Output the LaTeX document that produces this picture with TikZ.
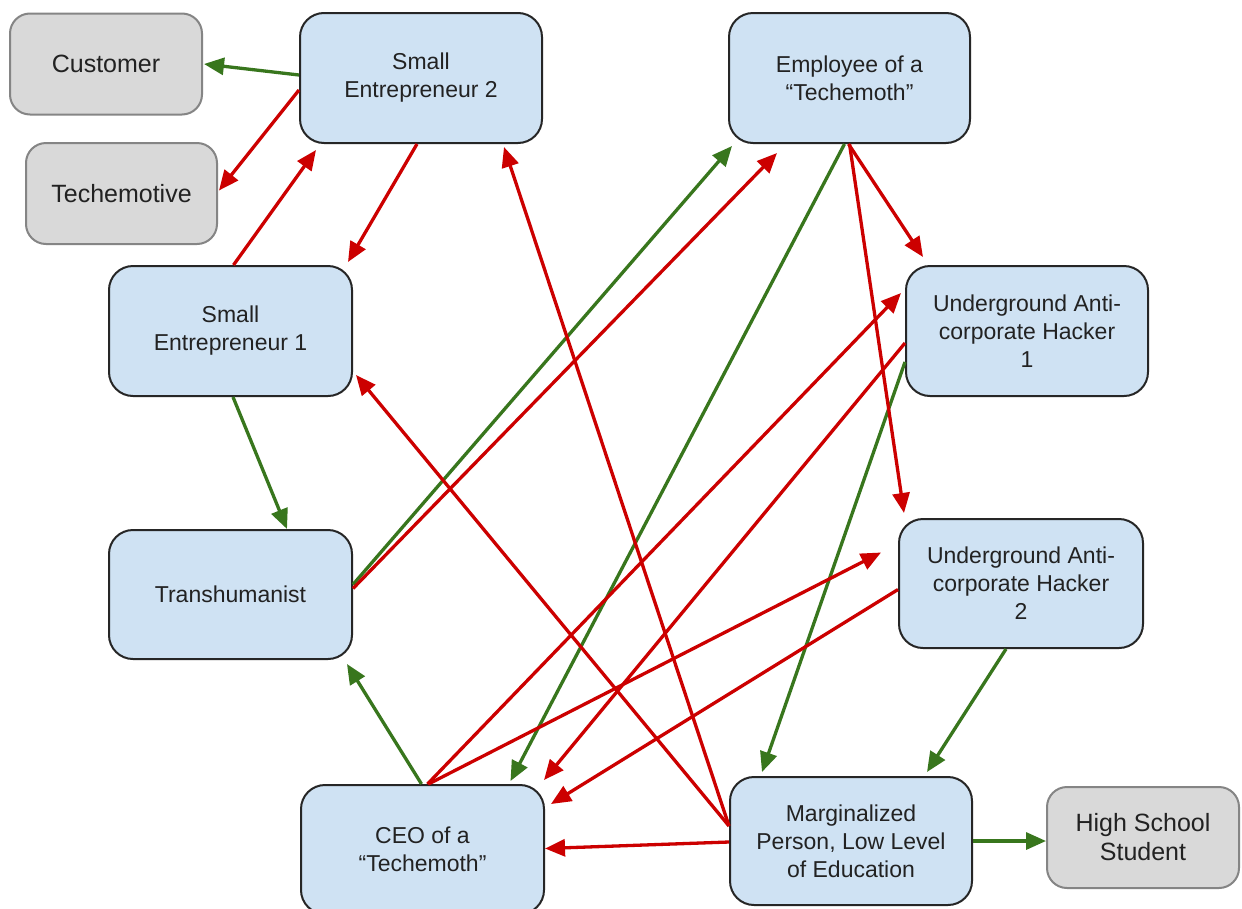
\documentclass[tikz,border=0pt]{standalone}
\usepackage{fontspec}
\setmainfont{Liberation Sans}
\usetikzlibrary{arrows.meta,calc}
\definecolor{boxblue}{HTML}{CFE2F3}
\definecolor{boxgrey}{HTML}{D9D9D9}
\definecolor{edgegrey}{HTML}{858585}
\definecolor{linkgreen}{HTML}{38761D}
\definecolor{linkred}{HTML}{CC0000}
\definecolor{inkdark}{HTML}{222222}

\begin{document}
\begin{tikzpicture}[x=1pt,y=-1pt,
  rolebox/.style={draw=black!85, line width=2pt, fill=boxblue, rounded corners=24pt,
    minimum width=242pt, minimum height=130pt, inner sep=0pt, align=center,
    text=inkdark, font=\fontsize{23}{28}\selectfont},
  outbox/.style={draw=edgegrey, line width=2pt, fill=boxgrey, rounded corners=20pt,
    minimum width=192pt, minimum height=101pt, inner sep=0pt, align=center,
    text=inkdark, font=\fontsize{25}{29}\selectfont},
  relink/.style={line width=3.3pt, -{Triangle[length=20pt,width=17pt]}},
  goodlink/.style={relink, color=linkgreen},
  badlink/.style={relink, color=linkred}]

% page frame
\useasboundingbox (0,0) rectangle (1242,908);
\clip (0,0) rectangle (1242,908);
\fill[white] (0,0) rectangle (1242,908);

% outside actors
\node[outbox] (cust) at (106,64) {Customer};
\node[outbox, minimum width=191pt] (tech) at (121.5,193.5) {Techemotive};
\node[outbox, minimum height=101pt] (hs) at (1143,837.5) {High School\\Student};

% main roles
\node[rolebox] (se2) at (421,78) {Small\\Entrepreneur 2};
\node[rolebox, minimum width=241pt] (emp) at (849.5,78) {Employee of a\\“Techemoth”};
\node[rolebox, minimum width=243pt] (se1) at (230.5,331) {Small\\Entrepreneur 1};
\node[rolebox] (h1) at (1027,331) {Underground Anti-\\corporate Hacker\\1};
\node[rolebox, minimum width=243pt, minimum height=129pt] (trans) at (230.5,594.5) {Transhumanist};
\node[rolebox, minimum width=244pt, minimum height=129pt] (h2) at (1021,583.5) {Underground Anti-\\corporate Hacker\\2};
\node[rolebox, minimum width=243pt, minimum height=129pt] (ceo) at (422.5,849.5) {CEO of a\\“Techemoth”};
\node[rolebox, minimum height=128pt] (marg) at (851,841) {Marginalized\\Person, Low Level\\of Education};

% positive relations
\draw[goodlink] ($(se2.west)+(0,-3)$) -- ($(cust.east)+(1,0)$);
\draw[goodlink] ($(se1.south)+(2.5,0)$) -- ($(trans.north)+(56.5,0)$);
\draw[goodlink] ($(ceo.north)+(-1,0)$) -- ($(trans.south east)+(-6,4)$);
\draw[goodlink] ($(trans.east)+(0,-10)$) -- ($(emp.south west)+(4,2)$);
\draw[goodlink] ($(emp.south)+(-5,0)$) -- ($(ceo.north)+(88,-3)$);
\draw[goodlink] ($(h1.west)+(0,31)$) -- ($(marg.north west)+(33,-4)$);
\draw[goodlink] ($(h2.south)+(-15,0)$) -- ($(marg.north east)+(-46,-4)$);
\draw[goodlink] (marg.east) -- (hs.west |- marg.east);

% negative relations
\draw[badlink] ($(se2.west)+(0,12)$) -- ($(tech.east)+(1,-3)$);
\draw[badlink] ($(se1.north)+(3,0)$) -- ($(se2.south west)+(17,6)$);
\draw[badlink] ($(se2.south)+(-4,0)$) -- ($(se1.north east)+(-5,-3)$);
\draw[badlink] ($(marg.west)+(0,-15)$) -- ($(se2.south)+(83,3)$);
\draw[badlink] ($(marg.west)+(0,-15)$) -- ($(se1.east)+(3,44)$);
\draw[badlink] ($(trans.east)+(0,-6)$) -- ($(emp.south west)+(49,9)$);
\draw[badlink] ($(emp.south)+(-1,0)$) -- ($(h1.north west)+(18,-8)$);
\draw[badlink] ($(emp.south)+(0,0)$) -- ($(h2.north west)+(6,-5)$);
\draw[badlink] ($(ceo.north)+(5,0)$) -- ($(h1.west)+(-4,-38)$);
\draw[badlink] ($(ceo.north)+(6,0)$) -- ($(h2.west)+(-17,-31)$);
\draw[badlink] ($(h1.west)+(0,12)$) -- ($(ceo.north east)+(-1,-4)$);
\draw[badlink] ($(h2.west)+(0,6)$) -- ($(ceo.north east)+(6,20)$);
\draw[badlink] ($(marg.west)+(0,1)$) -- ($(ceo.east)+(0,-1)$);
\end{tikzpicture}
\end{document}
